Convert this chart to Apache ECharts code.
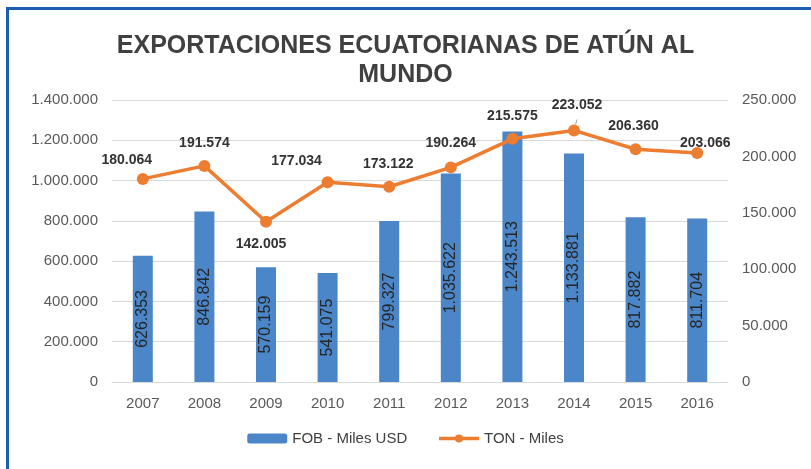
<!DOCTYPE html>
<html>
<head>
<meta charset="utf-8">
<script src="https://cdn.jsdelivr.net/npm/echarts@6/dist/echarts.min.js"></script>
<style>
  html, body { margin: 0; padding: 0; background: #fff; }
  #chart { width: 811px; height: 469px; }
</style>
</head>
<body>
<div id="chart"></div>
<script>
// categorias y valores
var years = ["2007", "2008", "2009", "2010", "2011", "2012", "2013", "2014", "2015", "2016"];
var fobValues = [626353, 846842, 570159, 541075, 799327, 1035622, 1243513, 1133881, 817882, 811704];
var tonValues = [180064, 191574, 142005, 177034, 173122, 190264, 215575, 223052, 206360, 203066];

// posicion de cada etiqueta de la linea (como en el original de Excel)
var tonLabelPos = [
  { position: "top", offset: [-16, -1] },
  { position: "top", offset: [0, -5] },
  { position: "bottom", offset: [-5, 4] },
  { position: "top", offset: [-31, -3], line: true },
  { position: "top", offset: [-1, -5] },
  { position: "top", offset: [0, -6] },
  { position: "top", offset: [0, -5] },
  { position: "top", offset: [3, -7], line: true },
  { position: "top", offset: [-2, -5] },
  { position: "top", offset: [8, 8] }
];

function fmt(v) {
  return String(v).replace(/\B(?=(\d{3})+(?!\d))/g, ".");
}

var chart = echarts.init(document.getElementById("chart"));
var font = "'Liberation Sans', Arial, sans-serif";

var tonData = tonValues.map(function (v, i) {
  var p = tonLabelPos[i];
  return {
    value: v,
    label: { position: p.position, offset: p.offset },
    labelLine: { show: !!p.line, lineStyle: { color: "#a6a6a6", width: 1 } }
  };
});

var option = {
  backgroundColor: "#fff",
  textStyle: { fontFamily: font },
  title: {
    text: "EXPORTACIONES ECUATORIANAS DE ATÚN AL\nMUNDO",
    left: "center",
    top: 27,
    textStyle: {
      fontFamily: font,
      fontSize: 25,
      fontWeight: "bold",
      color: "#404040",
      lineHeight: 29
    }
  },
  graphic: [
    { type: "rect", shape: { x: 6, y: 7, width: 3, height: 470 }, style: { fill: "#1d5db0" } },
    { type: "rect", shape: { x: 6, y: 7, width: 810, height: 3 }, style: { fill: "#1d5db0" } }
  ],
  legend: {
    bottom: 18,
    left: "center",
    itemGap: 30,
    itemWidth: 40,
    itemHeight: 10,
    textStyle: { fontSize: 15, color: "#404040", fontFamily: font },
    data: [
      { name: "FOB - Miles USD" },
      { name: "TON - Miles", lineStyle: { width: 3.5 } }
    ]
  },
  grid: { left: 112, right: 83, top: 100, bottom: 87 },
  xAxis: {
    type: "category",
    data: years,
    axisTick: { show: false },
    axisLine: { lineStyle: { color: "#d9d9d9" } },
    axisLabel: { fontSize: 15, color: "#595959", margin: 14 }
  },
  yAxis: [
    {
      type: "value",
      min: 0, max: 1400000, interval: 200000,
      axisLabel: { fontSize: 15, color: "#595959", margin: 14, formatter: fmt },
      splitLine: { lineStyle: { color: "#d9d9d9" } }
    },
    {
      type: "value",
      min: 0, max: 250000, interval: 50000,
      axisLabel: { fontSize: 15, color: "#595959", margin: 14, formatter: fmt },
      splitLine: { show: false }
    }
  ],
  series: [
    {
      name: "FOB - Miles USD",
      type: "bar",
      data: fobValues,
      barWidth: 20,
      itemStyle: { color: "#4a86c8" },
      label: {
        show: true,
        position: "inside",
        rotate: 90,
        fontSize: 16,
        color: "#262626",
        formatter: function (p) { return fmt(p.value); }
      }
    },
    {
      name: "TON - Miles",
      type: "line",
      yAxisIndex: 1,
      data: tonData,
      symbol: "circle",
      symbolSize: 12,
      lineStyle: { color: "#ed7d31", width: 3.5 },
      itemStyle: { color: "#ed7d31" },
      label: {
        show: true,
        fontSize: 14,
        fontWeight: "bold",
        color: "#333",
        formatter: function (p) { return fmt(p.value); }
      }
    }
  ]
};

chart.setOption(option);
</script>
</body>
</html>
